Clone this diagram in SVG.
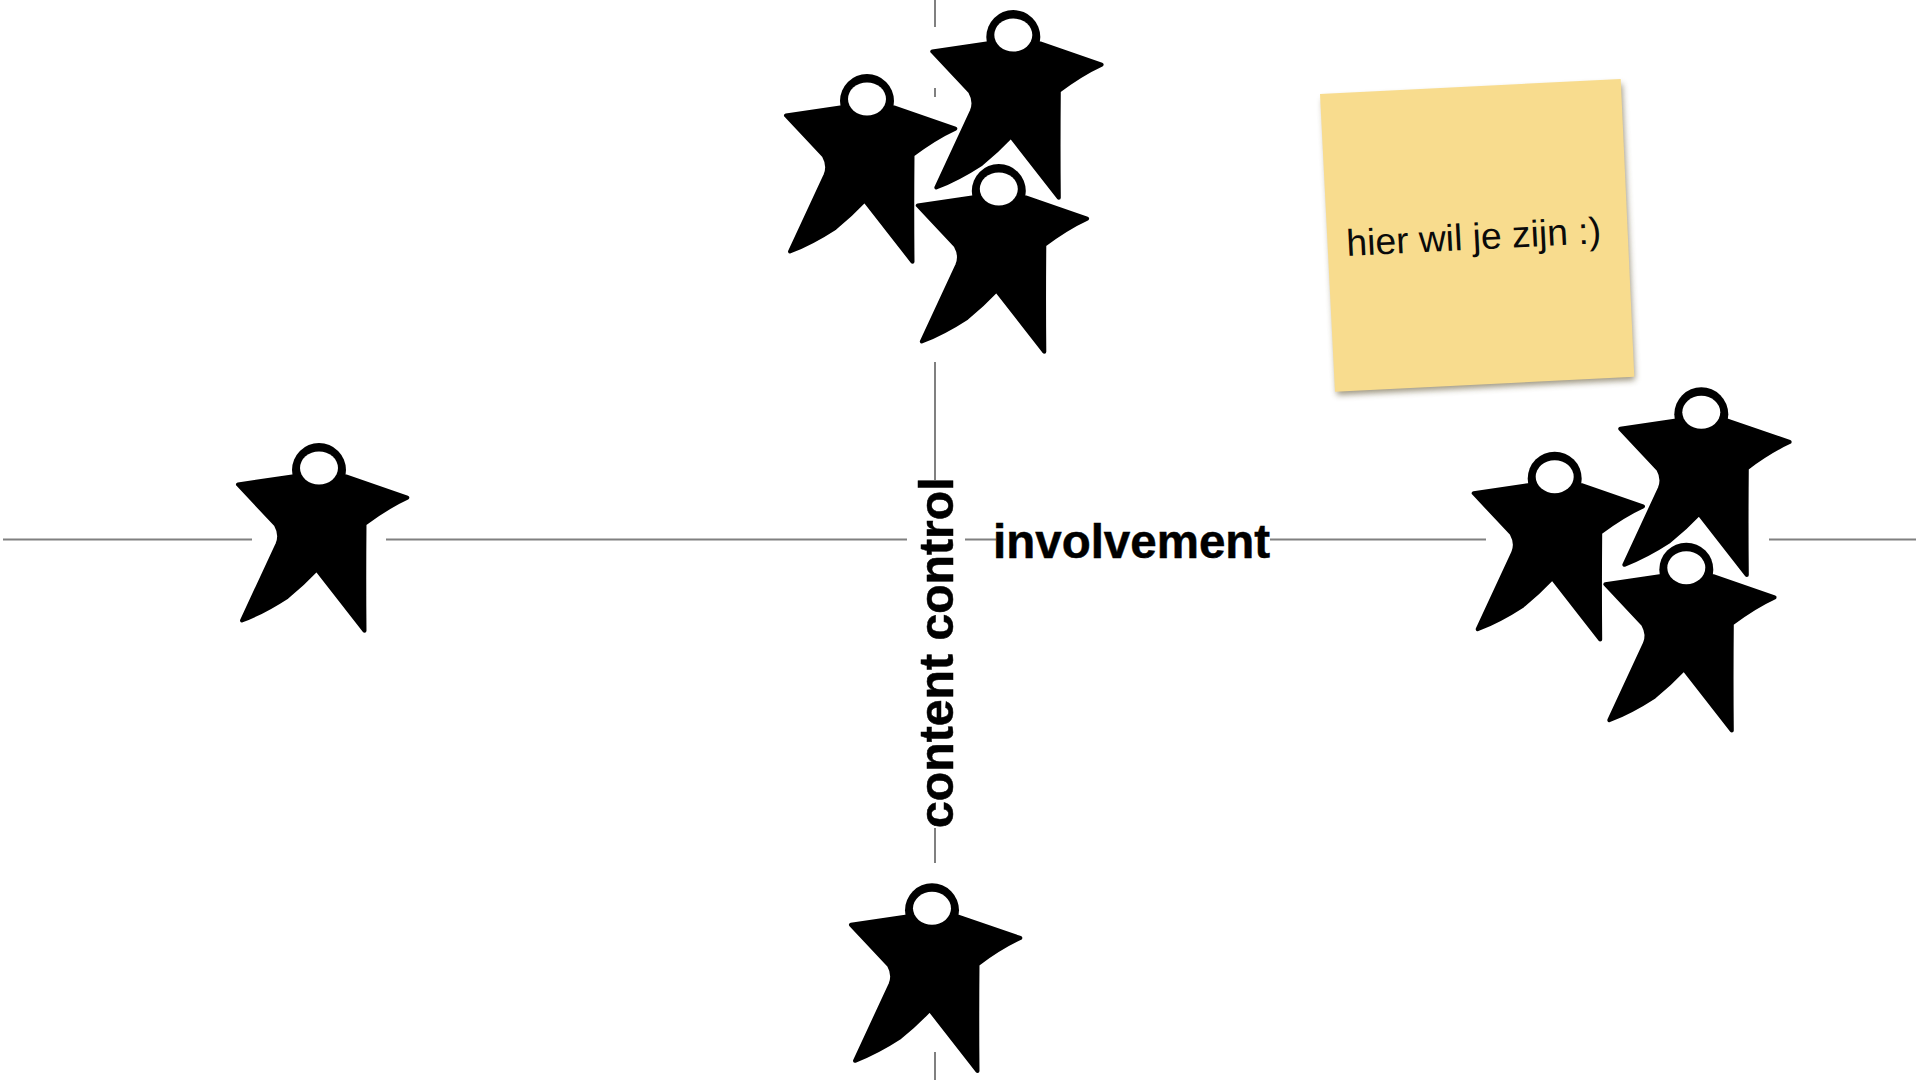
<svg xmlns="http://www.w3.org/2000/svg" width="1920" height="1080" viewBox="0 0 1920 1080">
<style>
.axis{stroke:#808080;stroke-width:2;fill:none}
.body{fill:#000;stroke:#000;stroke-width:4;stroke-linejoin:round}
.ring{fill:#000}
.face{fill:#fff}
.label{font-family:"Liberation Sans",Arial,sans-serif;font-weight:700;fill:#000;stroke:#000;stroke-width:0.5}
.note{font-family:"Liberation Sans",Arial,sans-serif;font-size:37.3px;fill:#0a0a0a}
</style>
<defs>
<filter id="blur" x="-10%" y="-10%" width="120%" height="120%"><feGaussianBlur stdDeviation="3"/></filter>
<g id="person">
<path class="body" d="M-81 14.5L-26.7 6.5L27 6.5L88.3 27.7Q68 37 45.5 54Q45 110 45.5 160.7L-2.3 99.5Q-16 114 -32 127Q-55 142 -77 150.5L-41.5 74Q-37.5 64.8 -43 55Z"/>
<circle class="ring" r="27"/>
<ellipse class="face" cy="-2" rx="19" ry="16.5"/>
</g>
</defs>
<rect width="1920" height="1080" fill="#fff"/>
<g id="connectors">
<path class="axis" d="M3 539.5H252M386 539.5H907M965 539.5H996M1270 539.5H1486M1769 539.5H1916"/>
<path class="axis" d="M935 0V27M935 88V97M935 362V480M935 828V863M935 1052V1080"/>
</g>
<g id="note">
<polygon points="1323,99 1622,84 1635,380 1337,395" fill="#5c4f2a" opacity="0.6" filter="url(#blur)"/>
<polygon points="1320,94 1620.7,79 1634.3,376.7 1335,391.7" fill="#f8dc8e"/>
<text class="note" transform="translate(1347 256) rotate(-2.9)">hier wil je zijn :)</text>
</g>
<g id="person-left"><use href="#person" x="319" y="470"/></g>
<g id="person-top-1"><use href="#person" x="867" y="101"/></g>
<g id="person-top-2"><use href="#person" x="1013.3" y="37"/></g>
<g id="person-top-3"><use href="#person" x="998.8" y="191"/></g>
<g id="person-right-1"><use href="#person" x="1554.7" y="478.7"/></g>
<g id="person-right-2"><use href="#person" x="1701.3" y="414.3"/></g>
<g id="person-right-3"><use href="#person" x="1686.3" y="569.7"/></g>
<g id="person-bottom"><use href="#person" x="932" y="910.3"/></g>
<g id="label-involvement"><text class="label" font-size="47.5" x="993" y="558">involvement</text></g>
<g id="label-content-control"><text class="label" font-size="48.2" transform="translate(952.5 828) rotate(-90)">content control</text></g>
</svg>
